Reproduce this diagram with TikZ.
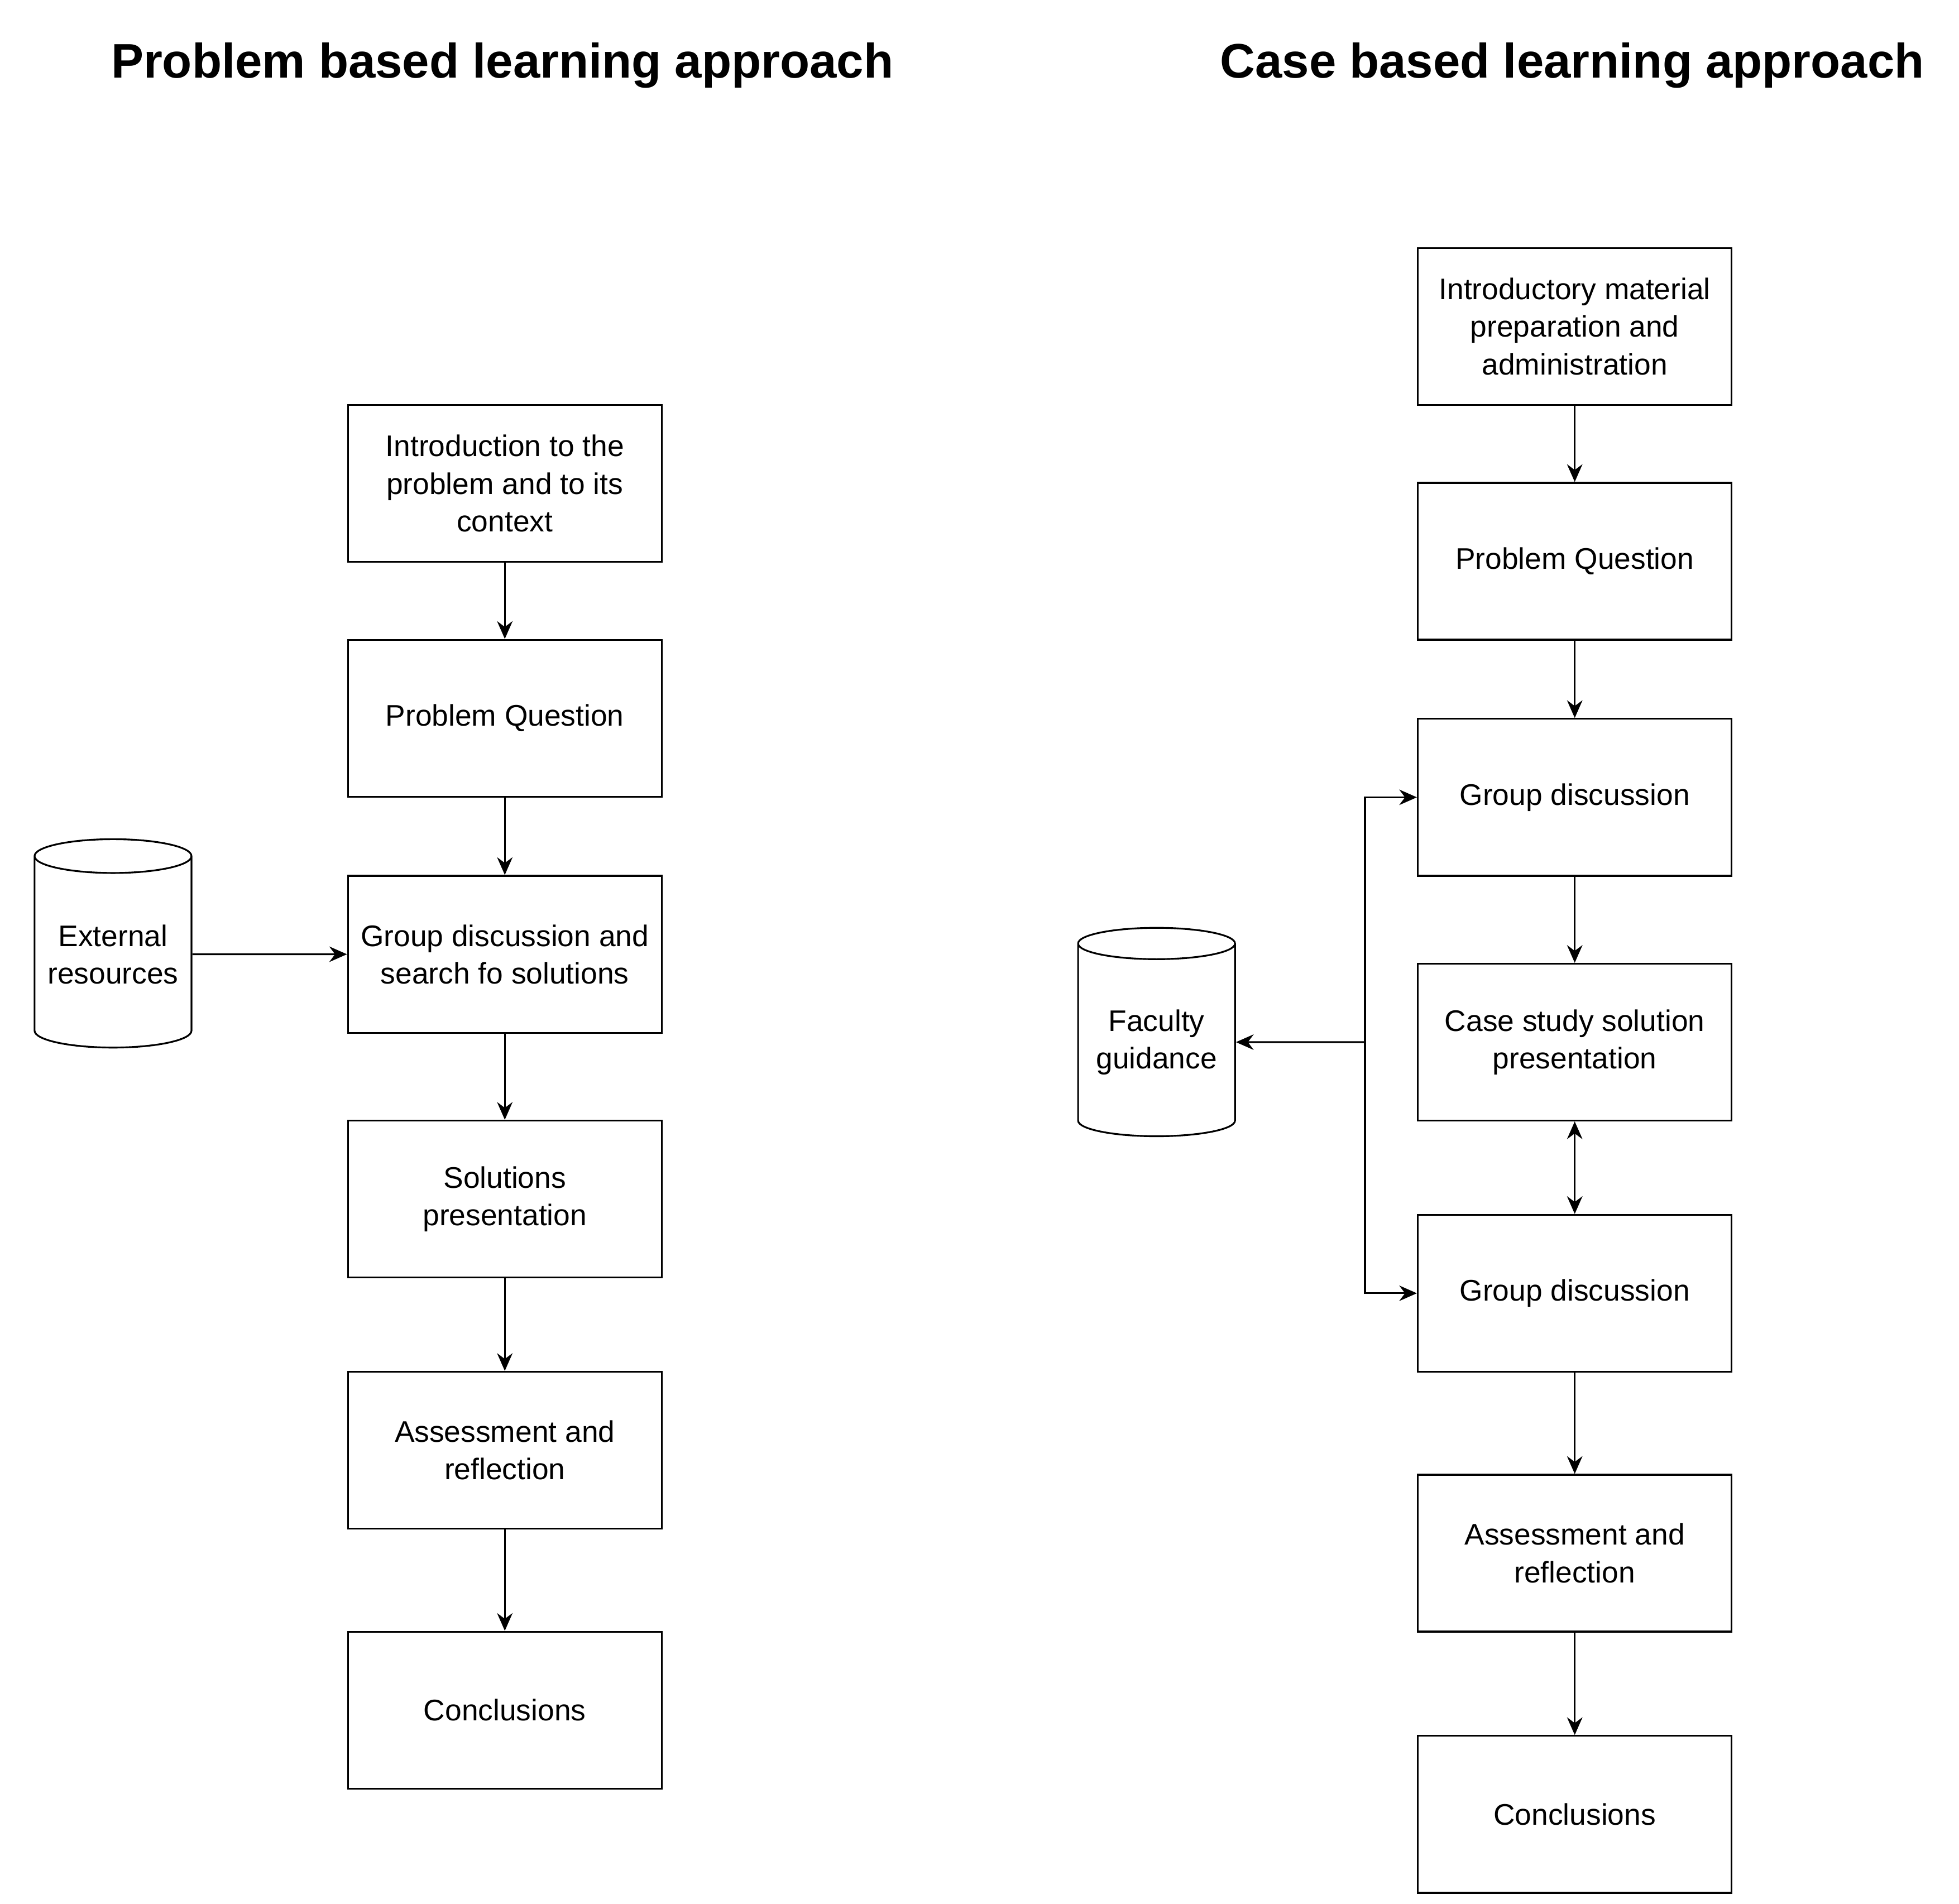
\documentclass[tikz,border=0pt]{standalone}
\usepackage{fontspec}
\setmainfont{Liberation Sans}
\usetikzlibrary{shapes.geometric,arrows.meta}
\begin{document}
\begin{tikzpicture}[x=0.02cm,y=-0.02cm,
 box/.style={draw,line width=0.8pt,minimum width=5cm,minimum height=2.5cm,align=center,font=\fontsize{13.5}{17}\selectfont,inner sep=1pt},
 cyl/.style={draw,line width=0.8pt,cylinder,shape border rotate=90,aspect=0.25,minimum width=2.5cm,minimum height=3.32cm,align=center,font=\fontsize{13.5}{17}\selectfont,inner sep=1pt},
 ttl/.style={font=\bfseries\fontsize{22}{26}\selectfont},
 arr/.style={-{Stealth[length=8pt,width=7pt]},line width=0.8pt}]
\useasboundingbox (0,0) rectangle (1560,1516);
\node[ttl] (t1) at (400,52) {Problem based learning approach};
\node[ttl] (t2) at (1252,52) {Case based learning approach};
\node[box] (a1) at (402,385) {Introduction to the\\problem and to its\\context};
\node[box] (a2) at (402,572) {Problem Question};
\node[box] (a3) at (402,760) {Group discussion and\\search fo solutions};
\node[box] (a4) at (402,955) {Solutions\\presentation};
\node[box] (a5) at (402,1155) {Assessment and\\reflection};
\node[box] (a6) at (402,1362) {Conclusions};
\node[cyl] (ext) at (90,760) {External\\resources};
\draw[arr] (a1) -- (a2); \draw[arr] (a2) -- (a3); \draw[arr] (a3) -- (a4);
\draw[arr] (a4) -- (a5); \draw[arr] (a5) -- (a6); \draw[arr] (ext) -- (a3);
\node[box] (b1) at (1254,260) {Introductory material\\preparation and\\administration};
\node[box] (b2) at (1254,447) {Problem Question};
\node[box] (b3) at (1254,635) {Group discussion};
\node[box] (b4) at (1254,830) {Case study solution\\presentation};
\node[box] (b5) at (1254,1030) {Group discussion};
\node[box] (b6) at (1254,1237) {Assessment and\\reflection};
\node[box] (b7) at (1254,1445) {Conclusions};
\node[cyl] (fac) at (921,830) {Faculty\\guidance};
\draw[arr] (b1) -- (b2); \draw[arr] (b2) -- (b3); \draw[arr] (b3) -- (b4);
\draw[arr,{Stealth[length=8pt,width=7pt]}-{Stealth[length=8pt,width=7pt]}] (b4) -- (b5);
\draw[arr] (b5) -- (b6); \draw[arr] (b6) -- (b7);
\coordinate (j) at (1087,830);
\draw[arr] (j) -- (fac);
\draw[arr] (j) |- (b3.west);
\draw[arr] (j) |- (b5.west);
\end{tikzpicture}
\end{document}
